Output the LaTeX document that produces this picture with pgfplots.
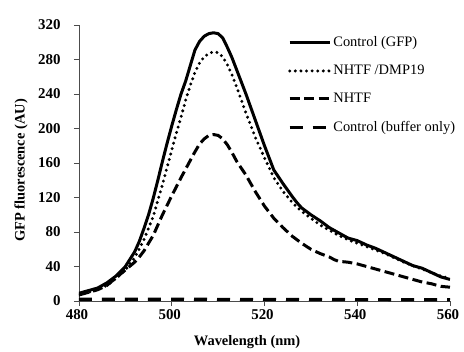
\documentclass[border=0pt]{standalone}
\usepackage{pgfplots}
\pgfplotsset{compat=1.18}
\usepackage{fontspec}
\setmainfont{Liberation Serif}
\begin{document}
\begin{tikzpicture}
\useasboundingbox (-79bp,-51bp) rectangle (385bp,301bp);
\begin{axis}[
  at={(0,0)}, anchor=south west,
  scale only axis, width=371bp, height=276bp,
  xmin=480, xmax=560, ymin=0, ymax=320,
  xtick={480,500,...,560}, ytick={0,40,...,320},
  axis x line*=bottom, axis y line*=left,
  axis line style={draw=black!70, line width=0.8pt},
  tick style={draw=black!70, line width=0.8pt},
  tick align=outside, major tick length=5bp,
  /pgf/number format/assume math mode=true,
  ticklabel style={font=\fontsize{15}{17}\selectfont\bfseries},
  yticklabel style={xshift=-10bp},
  xticklabel style={xshift=-2bp},
  xlabel={\textbf{Wavelength (nm)}},
  ylabel={\textbf{GFP fluorescence (AU)}},
  label style={font=\fontsize{14.5}{17}\selectfont},
  xlabel style={at={(axis description cs:0.453,-0.149)}, anchor=center},
  ylabel style={at={(axis description cs:-0.156,0.473)}, anchor=center},
  legend style={draw=none, fill=none, at={(0.555,0.972)}, anchor=north west,
    font=\fontsize{14.5}{17}\selectfont, row sep=13bp},
  legend cell align=left,
  legend image code/.code={\draw[#1] (0bp,0bp) -- (40bp,0bp);},
]
\addplot[black, line width=3bp, line join=round] coordinates {
(480,9)(482,12)(484,15)(486,21)(488,29)(490,40)(492,57)(493,69)(494,84)(495,100)(496,119)(497,140)(498,162)(499,183)(500,203)(501,222)(502,240)(503,255)(504,273)(505,291)(506,301)(507,307)(508,310)(509,311)(510,310)(511,305)(512,294)(513,282)(514,268)(515,254)(516,240)(518,210)(520,180)(522,152)(524,136)(526,121)(527,114)(528,108)(530,100)(532,93)(534,85)(536,79)(538,73)(540,70)(542,65)(544,61)(546,56)(548,51)(550,46)(552,41)(554,38)(556,33)(558,28)(560,25)
};
\addlegendentry{Control (GFP)}
\addplot[black, line width=3.3bp, line cap=round, dash pattern=on 0bp off 5.6bp] coordinates {
(480,7)(482,10)(484,13)(486,18)(488,26)(490,36)(492,50)(494,71)(496,98)(498,135)(500,175)(501,195)(502,213)(503,233)(504,250)(505,265)(506,276)(507,283)(508,287)(509,289)(510,288)(511,283)(512,274)(513,262)(514,248)(515,233)(516,218)(518,190)(520,166)(522,143)(524,127)(526,114)(528,104)(530,96)(532,88)(534,82)(536,76)(538,71)(540,67)(542,63)(544,59)(546,55)(548,50)(550,45)(552,41)(554,37)(556,33)(558,29)(560,26)
};
\addlegendentry{NHTF /DMP19}
\addplot[black, line width=3bp, dash pattern=on 10bp off 4.5bp] coordinates {
(480,7)(482,10)(484,13)(486,18)(488,27)(490,36)(492,45)(493,51)(494,58)(496,76)(498,100)(500,122)(502,143)(503,153)(504,163)(505,173)(506,182)(507,188)(508,192)(509,193)(510,192)(511,188)(512,181)(513,172)(514,162)(515,154)(516,146)(518,127)(520,110)(522,96)(524,85)(526,75)(528,67)(530,60)(532,55)(534,51)(535,48)(536,46)(538,45)(540,43)(542,40)(544,37)(546,34)(548,31)(550,28)(552,25)(554,22)(556,20)(558,17)(560,16)
};
\addlegendentry{NHTF}
\addplot[black, line width=3.2bp, dash pattern=on 13bp off 10bp] coordinates {
(480,2)(500,2)(520,1.8)(540,1.6)(560,1.5)
};
\addlegendentry{Control (buffer only)}
\end{axis}
\end{tikzpicture}
\end{document}
